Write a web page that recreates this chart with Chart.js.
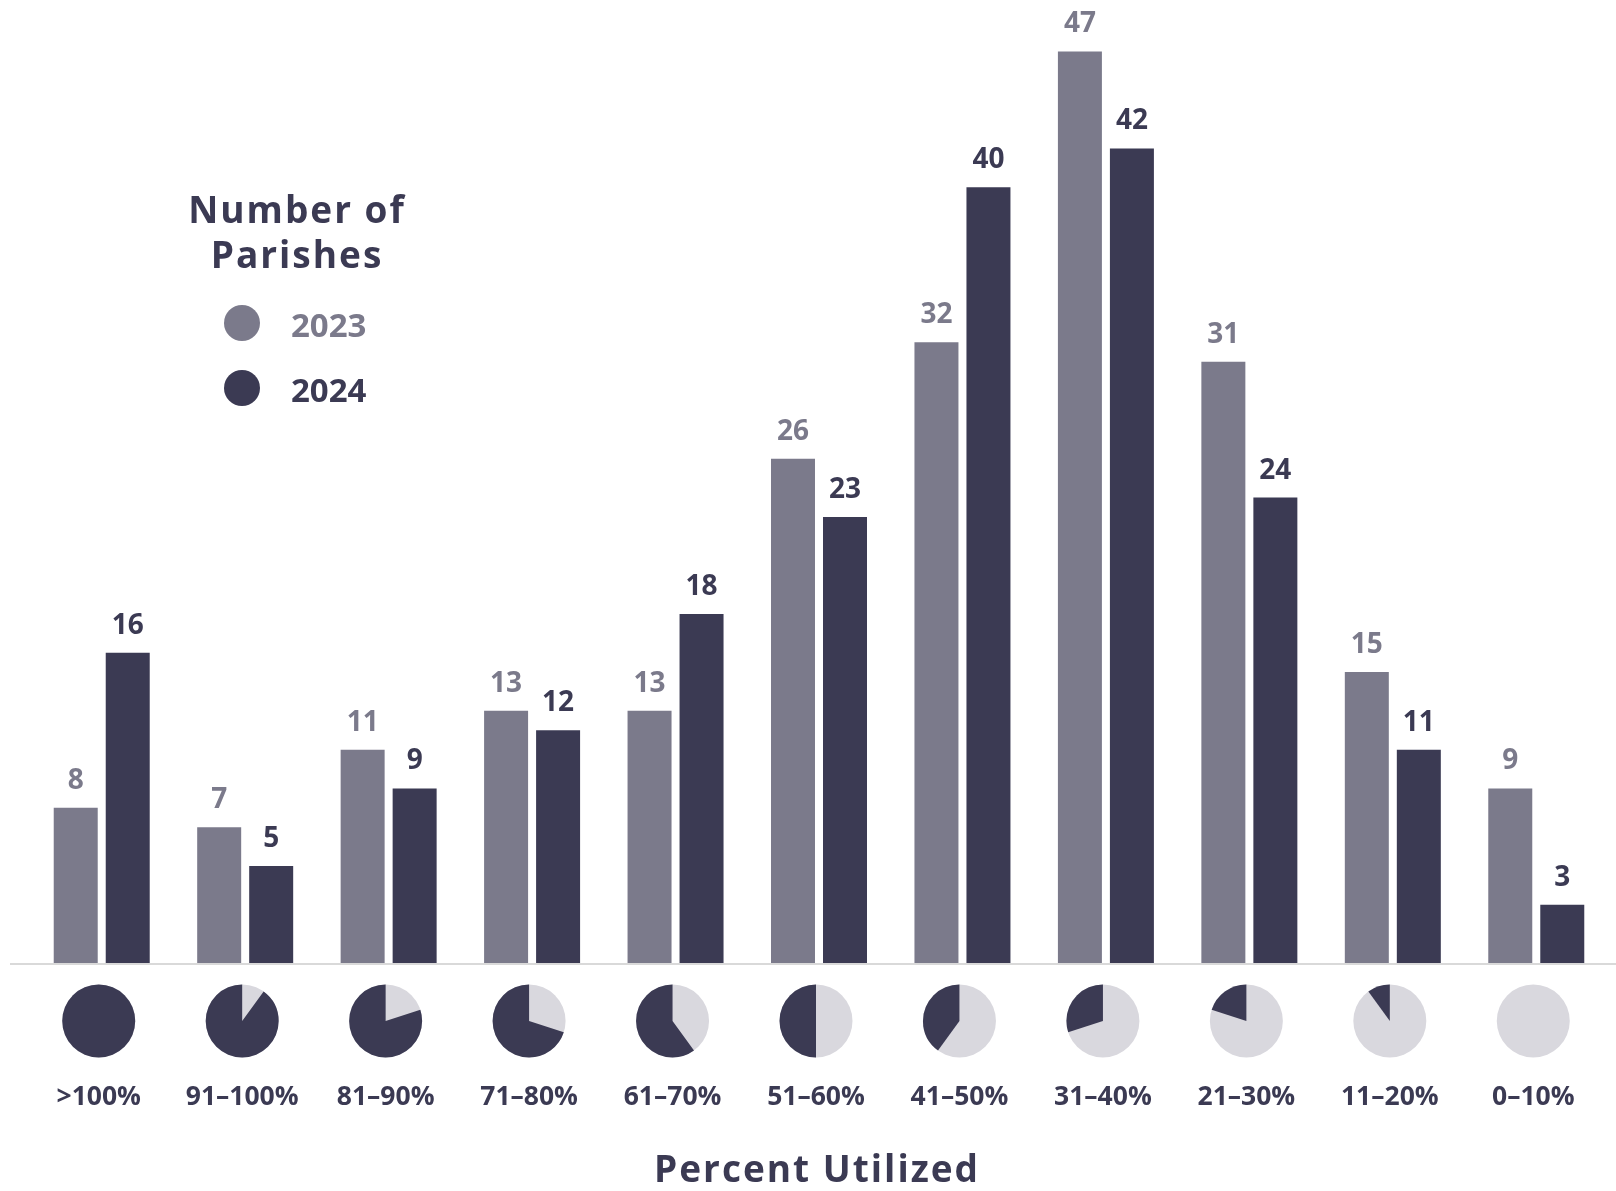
<!DOCTYPE html>
<html>
<head>
<meta charset="utf-8">
<title>Number of Parishes by Percent Utilized</title>
<script src="https://cdn.jsdelivr.net/npm/chart.js@4.4.1/dist/chart.umd.min.js"></script>
<style>
  html, body { margin: 0; padding: 0; background: #ffffff; }
  #wrap { width: 1616px; height: 1191px; position: relative; }
</style>
</head>
<body>
<div id="wrap"><canvas id="chartUso"></canvas></div>
<script>
/* ------------------------------------------------------------
   DATA
   ------------------------------------------------------------ */
const categorias = ['>100%', '91–100%', '81–90%', '71–80%', '61–70%', '51–60%',
                    '41–50%', '31–40%', '21–30%', '11–20%', '0–10%'];
const valores2023 = [8, 7, 11, 13, 13, 26, 32, 47, 31, 15, 9];
const valores2024 = [16, 5, 9, 12, 18, 23, 40, 42, 24, 11, 3];
// share of each pie filled dark (percent utilized)
const usoPie = [100, 90, 80, 70, 60, 50, 40, 30, 20, 10, 0];
const series = ['2023', '2024'];
const tituloLeyenda = ['Number of', 'Parishes'];
const tituloEje = 'Percent Utilized';

/* ------------------------------------------------------------
   COLOURS / FONTS
   ------------------------------------------------------------ */
const GRIS = '#7b7a8b';
const OSCURO = '#3b3a53';
const CLARO = '#d9d8de';
const FUENTE = '"Open Sans", "Noto Sans", sans-serif';

/* ------------------------------------------------------------
   PLUGIN: baseline, value labels, pies, legend, axis title
   ------------------------------------------------------------ */
const decoraciones = {
  id: 'decoraciones',
  afterDatasetsDraw(chart) {
    const { ctx, chartArea, scales } = chart;
    const x = scales.x, y = scales.y;
    const y0 = y.getPixelForValue(0);

    ctx.save();
    // baseline
    ctx.strokeStyle = '#d9d9d9';
    ctx.lineWidth = 2;
    ctx.beginPath();
    ctx.moveTo(10, y0 + 1);
    ctx.lineTo(chart.width, y0 + 1);
    ctx.stroke();

    // value labels above each bar
    ctx.font = `bold 28px ${FUENTE}`;
    ctx.textAlign = 'center';
    ctx.textBaseline = 'alphabetic';
    chart.data.datasets.forEach((ds, di) => {
      const meta = chart.getDatasetMeta(di);
      ctx.fillStyle = ds.backgroundColor;
      meta.data.forEach((bar, i) => {
        ctx.fillText(String(ds.data[i]), bar.x, bar.y - 19);
      });
    });

    // utilisation pies under each category
    const cy = y0 + 58;
    const r = 36.5;
    usoPie.forEach((v, i) => {
      const cx = x.getPixelForValue(i) - 3;
      ctx.fillStyle = CLARO;
      ctx.beginPath();
      ctx.arc(cx, cy, r, 0, Math.PI * 2);
      ctx.fill();
      if (v > 0) {
        ctx.fillStyle = OSCURO;
        ctx.beginPath();
        if (v >= 100) {
          ctx.arc(cx, cy, r, 0, Math.PI * 2);
        } else {
          const ini = -Math.PI / 2;
          ctx.moveTo(cx, cy);
          ctx.arc(cx, cy, r, ini, ini - Math.PI * 2 * v / 100, true);
          ctx.closePath();
        }
        ctx.fill();
      }
    });

    // legend
    ctx.fillStyle = OSCURO;
    ctx.font = `bold 37px ${FUENTE}`;
    ctx.letterSpacing = '2px';
    ctx.textAlign = 'center';
    ctx.fillText(tituloLeyenda[0], 297, 223);
    ctx.fillText(tituloLeyenda[1], 297, 268);
    ctx.letterSpacing = '0px';

    ctx.font = `bold 33px ${FUENTE}`;
    ctx.textAlign = 'left';
    chart.data.datasets.forEach((ds, di) => {
      const ly = 323 + di * 65;
      ctx.fillStyle = ds.backgroundColor;
      ctx.beginPath();
      ctx.arc(242, ly, 18, 0, Math.PI * 2);
      ctx.fill();
      ctx.fillText(ds.label, 291, ly + 14);
    });

    // x axis title
    ctx.fillStyle = OSCURO;
    ctx.font = `bold 37px ${FUENTE}`;
    ctx.letterSpacing = '2px';
    ctx.textAlign = 'center';
    ctx.fillText(tituloEje, (chartArea.left + chartArea.right) / 2 - 2, 1182);
    ctx.restore();
  }
};

/* ------------------------------------------------------------
   CHART
   ------------------------------------------------------------ */
const ctx = document.getElementById('chartUso').getContext('2d');

new Chart(ctx, {
  type: 'bar',
  data: {
    labels: categorias,
    datasets: [
      { label: series[0], data: valores2023, backgroundColor: GRIS },
      { label: series[1], data: valores2024, backgroundColor: OSCURO },
    ],
  },
  options: {
    responsive: true,
    maintainAspectRatio: false,
    animation: false,
    categoryPercentage: 0.725,
    barPercentage: 0.846,
    layout: { padding: { top: 32, left: 30, right: 8, bottom: 76 } },
    plugins: {
      legend: { display: false },
      tooltip: { enabled: false },
    },
    scales: {
      x: {
        grid: { display: false, drawTicks: false },
        border: { display: false },
        ticks: {
          padding: 119,
          labelOffset: -3,
          color: OSCURO,
          font: { family: FUENTE, size: 26.5, weight: 'bold' },
          maxRotation: 0,
          autoSkip: false,
        },
        // keep the big label gap from widening the side padding
        afterFit(scale) {
          scale.paddingLeft = 0;
          scale.paddingRight = 0;
          scale.height = 152;
        },
      },
      y: {
        display: false,
        min: 0,
        max: 48,
      },
    },
  },
  plugins: [decoraciones],
});
</script>
</body>
</html>
